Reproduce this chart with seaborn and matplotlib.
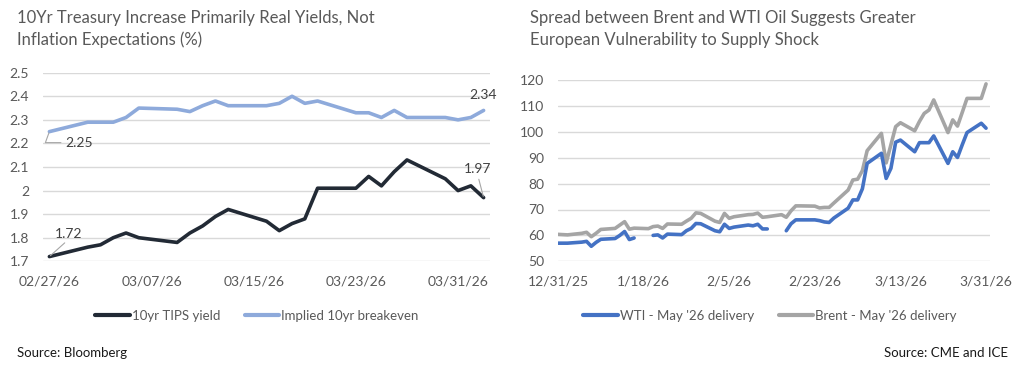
import numpy as np
import pandas as pd
import matplotlib
matplotlib.use("Agg")
import matplotlib.pyplot as plt
import matplotlib.dates as mdates
from matplotlib.lines import Line2D
from matplotlib.ticker import FuncFormatter
import seaborn as sns

# ---------------- Left chart data ----------------
left_dates = ["2026-02-27", "2026-03-02", "2026-03-03", "2026-03-04", "2026-03-05",
              "2026-03-06", "2026-03-09", "2026-03-10", "2026-03-11", "2026-03-12",
              "2026-03-13", "2026-03-16", "2026-03-17", "2026-03-18", "2026-03-19",
              "2026-03-20", "2026-03-23", "2026-03-24", "2026-03-25", "2026-03-26",
              "2026-03-27", "2026-03-30", "2026-03-31", "2026-04-01", "2026-04-02"]
tips_yield = [1.72, 1.76, 1.77, 1.80, 1.82, 1.80, 1.78, 1.82, 1.85, 1.89,
              1.92, 1.87, 1.83, 1.86, 1.88, 2.01, 2.01, 2.06, 2.02, 2.08,
              2.13, 2.05, 2.00, 2.02, 1.97]
breakeven = [2.25, 2.29, 2.29, 2.29, 2.31, 2.35, 2.345, 2.335, 2.36, 2.38,
             2.36, 2.36, 2.37, 2.40, 2.37, 2.38, 2.33, 2.33, 2.31, 2.34,
             2.31, 2.31, 2.30, 2.31, 2.34]
left_ticks = ["2026-02-27", "2026-03-07", "2026-03-15", "2026-03-23", "2026-03-31"]
left_yticks = [1.7, 1.8, 1.9, 2.0, 2.1, 2.2, 2.3, 2.4, 2.5]

# ---------------- Right chart data ----------------
right_dates = ["2025-12-31", "2026-01-02", "2026-01-05", "2026-01-06", "2026-01-07",
               "2026-01-08", "2026-01-09", "2026-01-12", "2026-01-13", "2026-01-14",
               "2026-01-15", "2026-01-16", "2026-01-19", "2026-01-20", "2026-01-21",
               "2026-01-22", "2026-01-23", "2026-01-26", "2026-01-27", "2026-01-28",
               "2026-01-29", "2026-01-30", "2026-02-02", "2026-02-03", "2026-02-04",
               "2026-02-05", "2026-02-06", "2026-02-09", "2026-02-10", "2026-02-11",
               "2026-02-12", "2026-02-13", "2026-02-16", "2026-02-17", "2026-02-18",
               "2026-02-19", "2026-02-20", "2026-02-23", "2026-02-24", "2026-02-25",
               "2026-02-26", "2026-02-27", "2026-03-02", "2026-03-03", "2026-03-04",
               "2026-03-05", "2026-03-06", "2026-03-09", "2026-03-10", "2026-03-11",
               "2026-03-12", "2026-03-13", "2026-03-16", "2026-03-17", "2026-03-18",
               "2026-03-19", "2026-03-20", "2026-03-23", "2026-03-24", "2026-03-25",
               "2026-03-26", "2026-03-27", "2026-03-30", "2026-03-31"]
wti = [57.0, 57.0, 57.4, 57.7, 55.8, 57.3, 58.5, 58.8, 60.0, 61.5,
       58.4, 59.0, np.nan, 60.0, 60.2, 59.0, 60.5, 60.3, 61.8, 62.7,
       64.6, 64.5, 61.8, 61.4, 64.3, 62.7, 63.2, 64.0, 63.7, 64.3,
       62.5, 62.5, np.nan, 61.8, 64.5, 66.0, 66.0, 66.0, 65.7, 65.2,
       65.0, 66.7, 70.5, 73.7, 73.7, 78.0, 87.8, 91.7, 82.0, 85.9,
       96.0, 96.8, 92.3, 95.8, 95.8, 95.8, 98.4, 87.8, 92.3, 90.1,
       95.0, 99.7, 103.3, 101.4]
brent = [60.4, 60.2, 60.8, 61.2, 59.5, 60.8, 62.3, 62.7, 64.0, 65.3,
         62.4, 62.8, 62.6, 63.4, 63.6, 62.7, 64.4, 64.3, 65.5, 66.6,
         68.7, 68.5, 65.5, 65.0, 68.5, 66.6, 67.2, 68.0, 68.1, 68.6,
         67.0, 67.2, 68.0, 67.0, 69.5, 71.4, 71.4, 71.3, 70.6, 70.8,
         70.8, 72.5, 77.5, 81.4, 81.7, 85.0, 92.7, 99.4, 88.0, 95.0,
         102.0, 103.5, 100.4, 104.0, 107.1, 108.4, 112.3, 99.7, 104.6, 102.2,
         107.5, 112.9, 112.9, 118.5]
right_ticks = ["2025-12-31", "2026-01-18", "2026-02-05", "2026-02-23", "2026-03-13", "2026-03-31"]
right_yticks = [50, 60, 70, 80, 90, 100, 110, 120]

# ---------------- Styles ----------------
C_TIPS = "#222a35"
C_BE = "#8eaadb"
C_WTI = "#4472c4"
C_BRENT = "#a5a5a5"
C_TEXT = "#595959"
C_GRID = "#d9d9d9"

sns.set_theme(style="white")
plt.rcParams['font.family'] = ['Lato', 'DejaVu Sans']

W, H = 1024, 369
fig = plt.figure(figsize=(W / 100, H / 100), dpi=100)


def fx(px):
    return px / W


def fy(py):
    return 1 - py / H


axL = fig.add_axes([fx(43), fy(261.3), fx(490 - 43), (261.3 - 72.7) / H])
axR = fig.add_axes([fx(558), fy(261.3), fx(990 - 558), (261.3 - 80) / H])

# ---- Left chart ----
ldf = pd.DataFrame({"date": pd.to_datetime(left_dates),
                    "tips": tips_yield, "be": breakeven})
sns.lineplot(data=ldf, x="date", y="tips", ax=axL, color=C_TIPS, lw=2.6,
             solid_joinstyle="round", solid_capstyle="round", legend=False)
sns.lineplot(data=ldf, x="date", y="be", ax=axL, color=C_BE, lw=2.6,
             solid_joinstyle="round", solid_capstyle="round", legend=False)

d0 = ldf["date"].iloc[0]
d1 = ldf["date"].iloc[-1]
axL.set_xlim(d0 - pd.Timedelta(hours=12), d1 + pd.Timedelta(hours=12))
axL.set_ylim(left_yticks[0], left_yticks[-1])
axL.set_yticks(left_yticks)
axL.yaxis.set_major_formatter(FuncFormatter(lambda v, p: f"{round(v, 1):g}"))
axL.set_xticks(pd.to_datetime(left_ticks))
axL.xaxis.set_major_formatter(mdates.DateFormatter("%m/%d/%y"))
axL.tick_params(axis="x", length=0, pad=10, labelsize=10, labelcolor=C_TEXT)
axL.tick_params(axis="y", length=0, pad=10, labelsize=10, labelcolor=C_TEXT)

# annotations
ann_kw = dict(textcoords="offset pixels", fontsize=10, color="#404040",
              ha="center", va="center")
axL.annotate(f"{tips_yield[0]:.2f}", xy=(d0, tips_yield[0]), xytext=(19, 23),
             arrowprops=dict(arrowstyle="-", color="#a6a6a6", lw=0.8,
                             shrinkA=0, shrinkB=1, relpos=(0.5, 0.0)), **ann_kw)
axL.annotate(f"{breakeven[0]:.2f}", xy=(d0, breakeven[0]), xytext=(30, -11),
             arrowprops=dict(arrowstyle="-", color="#a6a6a6", lw=0.8,
                             shrinkA=1, shrinkB=1, relpos=(0.0, 0.5),
                             connectionstyle="angle,angleA=0,angleB=70,rad=0"), **ann_kw)
axL.annotate(f"{breakeven[-1]:.2f}", xy=(d1, breakeven[-1]), xytext=(-1, 15), **ann_kw)
axL.annotate(f"{tips_yield[-1]:.2f}", xy=(d1, tips_yield[-1]), xytext=(-6, 29),
             arrowprops=dict(arrowstyle="-", color="#a6a6a6", lw=0.8,
                             shrinkA=1, shrinkB=1, relpos=(0.5, 0.0)), **ann_kw)

# ---- Right chart ----
rdf = pd.DataFrame({"date": pd.to_datetime(right_dates), "wti": wti, "brent": brent})
rdf["seg"] = rdf["wti"].isna().cumsum()
wdf = rdf.dropna(subset=["wti"])
sns.lineplot(data=rdf, x="date", y="brent", ax=axR, color=C_BRENT, lw=2.6,
             solid_joinstyle="round", legend=False)
sns.lineplot(data=wdf, x="date", y="wti", units="seg", estimator=None, ax=axR,
             color=C_WTI, lw=2.6, solid_joinstyle="round", legend=False)

r0 = rdf["date"].iloc[0]
r1 = rdf["date"].iloc[-1]
axR.set_xlim(r0, r1 + pd.Timedelta(hours=20))
axR.set_ylim(right_yticks[0], right_yticks[-1])
axR.set_yticks(right_yticks)
axR.set_xticks(pd.to_datetime(right_ticks))
axR.xaxis.set_major_formatter(FuncFormatter(
    lambda v, p: (lambda d: f"{d.month}/{d.day}/{d:%y}")(mdates.num2date(v))))
axR.tick_params(axis="x", length=4, width=1, color=C_GRID, pad=6,
                labelsize=10, labelcolor=C_TEXT)
axR.tick_params(axis="y", length=0, pad=10, labelsize=10, labelcolor=C_TEXT)

for ax in (axL, axR):
    ax.grid(axis="y", color=C_GRID, lw=1.0)
    ax.grid(axis="x", visible=False)
    ax.set_axisbelow(True)
    for s in ax.spines.values():
        s.set_visible(False)
    ax.set_xlabel("")
    ax.set_ylabel("")
    ax.patch.set_alpha(0)

# ---- Titles ----
title_kw = dict(fontsize=12, color=C_TEXT, ha="left", va="center")
fig.text(fx(17), fy(17.5), "10Yr Treasury Increase Primarily Real Yields, Not", **title_kw)
fig.text(fx(17), fy(39.5), "Inflation Expectations (%)", **title_kw)
fig.text(fx(530), fy(17.5), "Spread between Brent and WTI Oil Suggests Greater", **title_kw)
fig.text(fx(530), fy(39.5), "European Vulnerability to Supply Shock", **title_kw)

# ---- Legends ----
leg_kw = dict(loc="center", ncol=2, frameon=False, fontsize=9.5,
              handlelength=2.6, handletextpad=0.15, columnspacing=1.9)
hL = [Line2D([], [], color=C_TIPS, lw=3), Line2D([], [], color=C_BE, lw=3)]
legL = fig.legend(hL, ["10yr TIPS yield", "Implied 10yr breakeven"],
                  bbox_to_anchor=(fx(257), fy(316)), **leg_kw)
hR = [Line2D([], [], color=C_WTI, lw=3), Line2D([], [], color=C_BRENT, lw=3)]
legR = fig.legend(hR, ["WTI - May '26 delivery", "Brent - May '26 delivery"],
                  bbox_to_anchor=(fx(770), fy(316)), **leg_kw)
for lg in (legL, legR):
    for t in lg.get_texts():
        t.set_color(C_TEXT)

# ---- Sources ----
fig.text(fx(17), fy(353), "Source: Bloomberg", fontsize=9.5, color="#1a1a1a",
         ha="left", va="center")
fig.text(fx(1008), fy(353), "Source: CME and ICE", fontsize=9.5, color="#1a1a1a",
         ha="right", va="center")

fig.savefig("out.png", dpi=100)
